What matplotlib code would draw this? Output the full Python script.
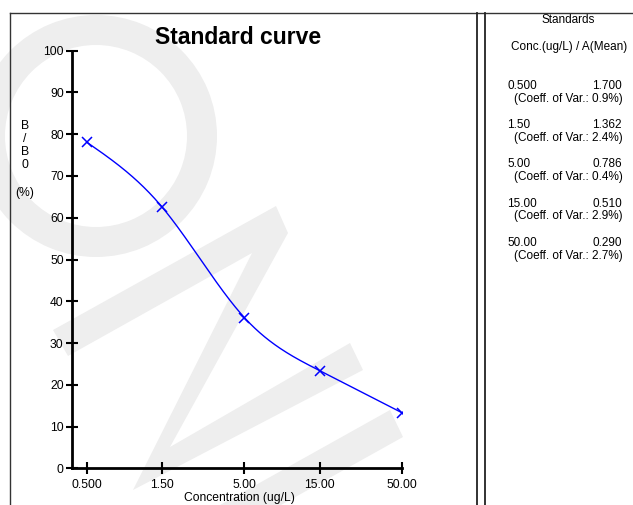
import numpy as np
import matplotlib
matplotlib.use("Agg")
import matplotlib.pyplot as plt
from matplotlib.patches import Polygon, Wedge
from matplotlib.lines import Line2D

plt.rcParams['font.family'] = ['Liberation Sans', 'DejaVu Sans']

# ---- data ----
conc = [0.5, 1.5, 5.0, 15.0, 50.0]
conc_labels = ["0.500", "1.50", "5.00", "15.00", "50.00"]
b_b0 = [78.1, 62.6, 36.1, 23.4, 13.3]
a_mean = ["1.700", "1.362", "0.786", "0.510", "0.290"]
cv = ["0.9", "2.4", "0.4", "2.9", "2.7"]
y_ticks = [0, 10, 20, 30, 40, 50, 60, 70, 80, 90, 100]

W, H = 633, 505
fig = plt.figure(figsize=(W / 100, H / 100), dpi=100)
fig.patch.set_facecolor('white')

def px(x, y):
    """pixel (from top-left) -> inches for dpi_scale_trans"""
    return (x / 100.0, (H - y) / 100.0)

# ---- watermark (decoration) ----
wm = '#eeeeee'
ring = Wedge(px(96, 136), 1.21, 0, 360, width=0.30, transform=fig.dpi_scale_trans,
             facecolor=wm, edgecolor='none', zorder=-2)
fig.patches.append(ring)
zpoly = [(53, 330), (276, 206), (288, 233), (170, 447), (350, 343), (363, 370),
         (133, 490), (252, 253), (68, 356)]
fig.patches.append(Polygon([px(*p) for p in zpoly], closed=True, transform=fig.dpi_scale_trans,
                           facecolor=wm, edgecolor='none', zorder=-2))
band = [(390, 410), (403, 437), (281, 505), (220, 505)]
fig.patches.append(Polygon([px(*p) for p in band], closed=True, transform=fig.dpi_scale_trans,
                           facecolor=wm, edgecolor='none', zorder=-2))

# ---- frame lines ----
def fline(xs, ys, lw=1.0, color='#333333'):
    pts = [px(x, y) for x, y in zip(xs, ys)]
    fig.lines.append(Line2D([p[0] for p in pts], [p[1] for p in pts], transform=fig.dpi_scale_trans,
                            color=color, linewidth=lw, zorder=5))

fline([10, 633], [13, 13], lw=1.0)
fline([10, 10], [13, 505], lw=1.0)
fline([477, 477], [13, 505], lw=1.3, color='#222222')
fline([485, 485], [13, 505], lw=1.3, color='#222222')

# ---- axes ----
x0, x1 = 72, 402
y0, y1 = 468.3, 50.7
ax = fig.add_axes([x0 / W, (H - y0) / H, (x1 - x0) / W, (y0 - y1) / H])
ax.patch.set_alpha(0)
ax.set_xscale('log')
lx0 = np.log10(conc[0]) - (86.7 - x0) / 157.5
ax.set_xlim(10 ** lx0, conc[-1])
ax.set_ylim(0, 100)

# smooth curve: natural cubic spline in log10(conc)
xk = np.log10(np.array(conc))
yk = np.array(b_b0)
n = len(xk)
h = np.diff(xk)
A = np.zeros((n, n))
rhs = np.zeros(n)
A[0, 0] = 1
A[-1, -1] = 1
for i in range(1, n - 1):
    A[i, i - 1] = h[i - 1]
    A[i, i] = 2 * (h[i - 1] + h[i])
    A[i, i + 1] = h[i]
    rhs[i] = 6 * ((yk[i + 1] - yk[i]) / h[i] - (yk[i] - yk[i - 1]) / h[i - 1])
M = np.linalg.solve(A, rhs)
xs = np.linspace(xk[0], xk[-1], 400)
ys = np.zeros_like(xs)
for j, xv in enumerate(xs):
    i = min(np.searchsorted(xk, xv, side='right') - 1, n - 2)
    t1 = xk[i + 1] - xv
    t0 = xv - xk[i]
    ys[j] = (M[i] * t1 ** 3 + M[i + 1] * t0 ** 3) / (6 * h[i]) \
        + (yk[i] / h[i] - M[i] * h[i] / 6) * t1 + (yk[i + 1] / h[i] - M[i + 1] * h[i] / 6) * t0

ax.plot(10 ** xs, ys, color='#0000ff', linewidth=1.0, zorder=3)
ax.plot(conc, b_b0, linestyle='none', marker='x', color='#0000ff', markersize=6.5,
        markeredgewidth=1.1, zorder=4)

for s in ['top', 'right']:
    ax.spines[s].set_visible(False)
for s in ['left', 'bottom']:
    ax.spines[s].set_linewidth(2.0)
    ax.spines[s].set_color('black')

fs = 8.7
ax.set_xticks(conc)
ax.set_xticklabels(conc_labels)
ax.xaxis.set_minor_locator(matplotlib.ticker.NullLocator())
ax.set_yticks(y_ticks)
ax.set_yticklabels([str(v) for v in y_ticks])
ax.tick_params(axis='both', direction='inout', length=8, width=1.5, labelsize=fs, colors='black')
ax.tick_params(axis='y', pad=2)
ax.tick_params(axis='x', pad=4)

# ---- titles / labels ----
fig.text(238 / W, 1 - 37 / H, "Standard curve", fontsize=16.5, fontweight='bold',
         ha='center', va='center')
for txt, yy in [("B", 126), ("/", 139), ("B", 152), ("0", 165), ("(%)", 193)]:
    fig.text(25 / W, 1 - yy / H, txt, fontsize=fs, ha='center', va='center')
fig.text(239 / W, 1 - 503.5 / H, "Concentration (ug/L)", fontsize=fs, ha='center', va='bottom')

# ---- right panel ----
fr = 8.5
fig.text(568 / W, 1 - 20 / H, "Standards", fontsize=fr, ha='center', va='center')
fig.text(569 / W, 1 - 47 / H, "Conc.(ug/L) / A(Mean)", fontsize=fr, ha='center', va='center')
for k in range(len(conc)):
    yy = 86 + 39.2 * k
    fig.text(507 / W, 1 - yy / H, conc_labels[k], fontsize=fr, ha='left', va='center')
    fig.text(622 / W, 1 - yy / H, a_mean[k], fontsize=fr, ha='right', va='center')
    fig.text(623 / W, 1 - (yy + 12.8) / H, "(Coeff. of Var.: %s%%)" % cv[k], fontsize=fr,
             ha='right', va='center')

fig.savefig("out.png", dpi=100)
